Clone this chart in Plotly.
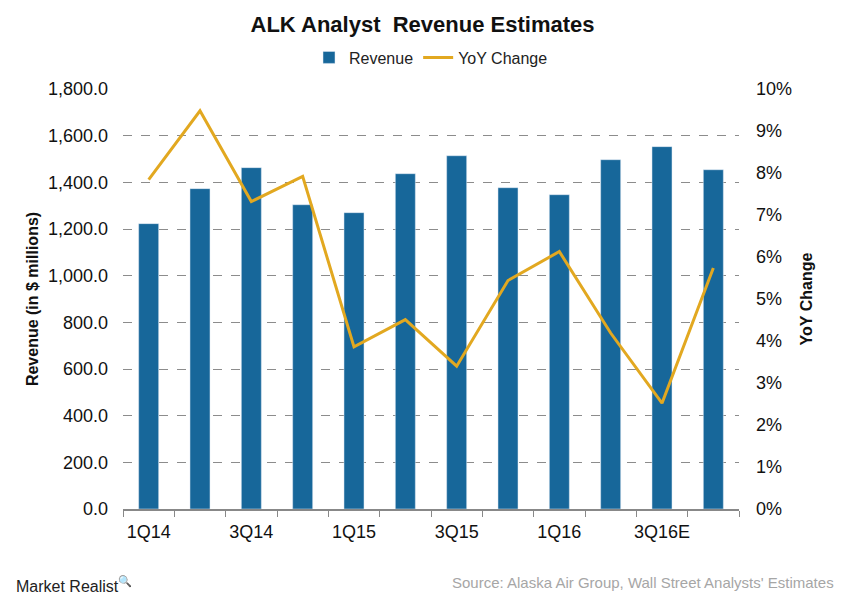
import plotly.graph_objects as go

quarters = ["1Q14", "2Q14", "3Q14", "4Q14", "1Q15", "2Q15", "3Q15", "4Q15",
            "1Q16", "2Q16", "3Q16E", "4Q16E"]
tick_labels = ["1Q14", "", "3Q14", "", "1Q15", "", "3Q15", "", "1Q16", "", "3Q16E", ""]
revenue = [1223, 1373, 1463, 1304, 1270, 1437, 1514, 1377, 1347, 1497, 1553, 1454]
yoy_change = [7.84, 9.48, 7.32, 7.92, 3.86, 4.51, 3.40, 5.44, 6.13, 4.19, 2.52, 5.74]

BAR = "#17679A"
LINE = "#E2A820"
SANS = "Liberation Sans, Arial, sans-serif"

fig = go.Figure()
fig.add_trace(go.Bar(x=quarters, y=revenue, name="Revenue", marker_color=BAR,
                     yaxis="y"))
fig.add_trace(go.Scatter(x=quarters, y=yoy_change, name="YoY Change", mode="lines",
                         line=dict(color=LINE, width=3), yaxis="y2"))

fig.update_layout(
    width=845, height=601,
    margin=dict(l=123, r=106, t=89, b=92, autoexpand=False),
    paper_bgcolor="white", plot_bgcolor="white",
    bargap=0.61,
    title=dict(text="<b>ALK Analyst  Revenue Estimates</b>", x=0.5, xanchor="center",
               y=0.96, yanchor="middle",
               font=dict(family=SANS, size=22, color="#111")),
    legend=dict(orientation="h", x=0.5, xanchor="center", y=1.075, yanchor="middle",
                font=dict(family=SANS, size=16, color="#222"),
                itemwidth=30, traceorder="normal"),
    xaxis=dict(tickmode="array", tickvals=quarters, ticktext=tick_labels,
               tickangle=0, ticklabelstandoff=6,
               tickson="boundaries", ticks="outside", ticklen=6, tickcolor="#888",
               showline=True, linecolor="#888", linewidth=1.5,
               tickfont=dict(family=SANS, size=18, color="#111"),
               showgrid=False),
    yaxis=dict(range=[0, 1800], dtick=200, tickformat=",.1f",
               tickfont=dict(family=SANS, size=18, color="#111"),
               showgrid=True, gridcolor="#8c8c8c", griddash="dash", gridwidth=1,
               zeroline=False, ticks="", ticklabelstandoff=14,
               title=dict(text="<b>Revenue (in $ millions)</b>",
                          font=dict(family=SANS, size=16, color="#111"), standoff=5)),
    yaxis2=dict(range=[0, 10], dtick=1, ticksuffix="%", overlaying="y", side="right",
                tickfont=dict(family=SANS, size=18, color="#111"),
                showgrid=False, zeroline=False, ticklabelstandoff=16,
                title=dict(text="<b>YoY Change</b>",
                           font=dict(family=SANS, size=16, color="#111"), standoff=9)),
)

fig.add_annotation(text="Market Realist<sup>🔍</sup>", xref="paper", yref="paper",
                   x=-0.177, y=-0.179, xanchor="left", yanchor="middle", showarrow=False,
                   font=dict(family=SANS, size=16, color="#222"))
fig.add_annotation(text="Source: Alaska Air Group, Wall Street Analysts' Estimates",
                   xref="paper", yref="paper", x=1.158, y=-0.176, xanchor="right",
                   yanchor="middle", showarrow=False,
                   font=dict(family=SANS, size=15, color="#a6a6a6"))

fig.write_html("out.html", config={"displayModeBar": False},
               post_script="document.body.style.margin='0';document.body.style.overflow='hidden';")
